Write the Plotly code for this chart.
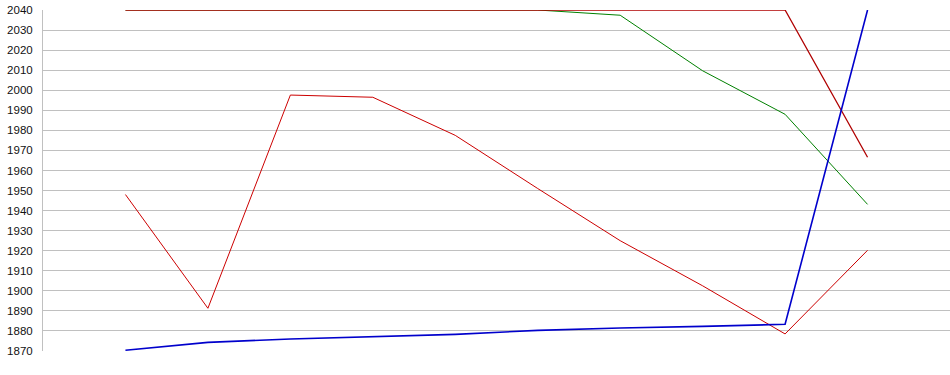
import plotly.graph_objects as go

categories = ["1", "2", "3", "4", "5", "6", "7", "8", "9", "10"]
y_ticks = list(range(1870, 2041, 10))

red_low = [1948, 1891.3, 1997.6, 1996.5, 1977.5, 1951, 1925, 1902.5, 1878.5, 1920.2]
red_top = [2040, 2040, 2040, 2040, 2040, 2040, 2040, 2040, 2040, 1966.6]
green = [2040, 2040, 2040, 2040, 2040, 2040, 2037.4, 2009.7, 1988, 1943.1]
blue = [1870.4, 1874.3, 1876, 1877.3, 1878.3, 1880.3, 1881.5, 1882.3, 1883.3, 2040]

fig = go.Figure()
fig.add_trace(go.Scatter(x=categories, y=green, mode="lines",
                         line=dict(color="#008000", width=1)))
fig.add_trace(go.Scatter(x=categories, y=red_low, mode="lines",
                         line=dict(color="#cc0000", width=1)))
fig.add_trace(go.Scatter(x=categories, y=red_top, mode="lines",
                         line=dict(color="#b00000", width=1.3)))
fig.add_trace(go.Scatter(x=categories, y=blue, mode="lines",
                         line=dict(color="#0000cc", width=1.6)))

fig.update_layout(
    width=950, height=375,
    margin=dict(l=43, r=0, t=10, b=24),
    paper_bgcolor="white", plot_bgcolor="white",
    showlegend=False,
    font=dict(family="Liberation Sans, Arial, sans-serif", size=12, color="#111"),
    xaxis=dict(type="category", range=[-1, 10], showticklabels=False,
               showgrid=False, zeroline=False, showline=False, ticks=""),
    yaxis=dict(range=[1870, 2040], tickvals=y_ticks,
               tickfont=dict(size=11.5),
               showgrid=True, gridcolor="#c0c0c0", gridwidth=1,
               zeroline=False, showline=True, linecolor="#c0c0c0", linewidth=1,
               ticks="", ticklabelstandoff=7),
)

fig.write_html("out.html", config={"displayModeBar": False},
               post_script="document.body.style.margin='0';document.body.style.overflow='hidden';")
